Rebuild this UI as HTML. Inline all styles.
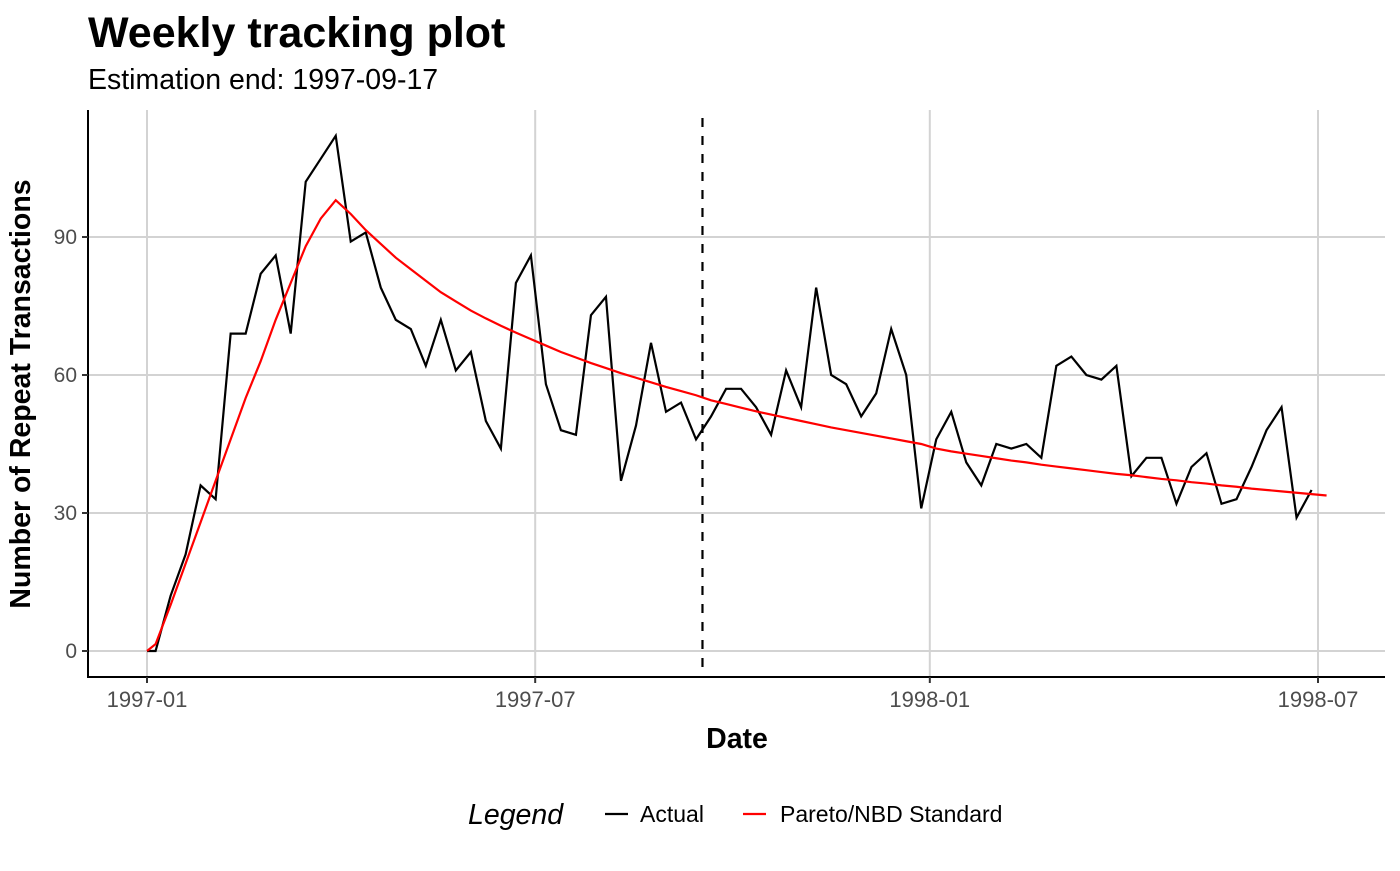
<!DOCTYPE html>
<html><head><meta charset="utf-8"><style>
body{margin:0;background:#fff;font-family:"Liberation Sans",sans-serif}
</style></head><body>
<svg id="chart" width="1400" height="866" xmlns="http://www.w3.org/2000/svg" font-family="Liberation Sans, sans-serif">
<text x="88" y="47" font-size="43" font-weight="bold">Weekly tracking plot</text>
<text x="88" y="89" font-size="28.5">Estimation end: 1997-09-17</text>
<g id="grid"></g>
<g id="marks"></g>
<line x1="88" y1="110" x2="88" y2="678" stroke="#000" stroke-width="2"/>
<line x1="87" y1="677" x2="1385" y2="677" stroke="#000" stroke-width="2"/>
<g id="ticks"></g>
<text x="737" y="748" font-size="28.5" font-weight="bold" text-anchor="middle">Date</text>
<text transform="translate(30,394) rotate(-90)" font-size="28.5" font-weight="bold" text-anchor="middle">Number of Repeat Transactions</text>
<g>
<text x="468" y="824" font-size="28.5" font-style="italic">Legend</text>
<line x1="605" y1="814" x2="628" y2="814" stroke="#000" stroke-width="2.2"/>
<text x="640" y="822" font-size="23">Actual</text>
<line x1="743" y1="814" x2="766" y2="814" stroke="#f00" stroke-width="2.2"/>
<text x="780" y="822" font-size="23">Pareto/NBD Standard</text>
</g>
</svg>
<script>
const actualValues=[0,0,12,21,36,33,69,69,82,86,69,102,107,112,89,91,79,72,70,62,72,61,65,50,44,80,86,58,48,47,73,77,37,49,67,52,54,46,51,57,57,53,47,61,53,79,60,58,51,56,70,60,31,46,52,41,36,45,44,45,42,62,64,60,59,62,38,42,42,32,40,43,32,33,40,48,53,29,35];
const modelValues=[0,1.5,10,19,28,37,46,55,63,72,80,88,94,98,95,91.5,88.5,85.5,83,80.5,78,76,74,72.3,70.7,69.2,67.8,66.4,65,63.8,62.6,61.5,60.4,59.4,58.4,57.4,56.5,55.6,54.5,53.7,52.9,52.1,51.4,50.7,50,49.3,48.6,48,47.4,46.8,46.2,45.6,45,44,43.4,42.9,42.4,41.9,41.4,41,40.5,40.1,39.7,39.3,38.9,38.5,38.2,37.8,37.4,37.1,36.7,36.4,36,35.7,35.3,35,34.7,34.4,34.1,33.8];
const yTicks=[0,30,60,90];
const xTickLabels=["1997-01","1997-07","1998-01","1998-07"];
const xTickDays=[0,181,365,546];
const estimationEndDay=259;
const NS="http://www.w3.org/2000/svg";
function xScale(d){return 147+d*(1318-147)/546;}
function yScale(v){return 651-v*(651-237)/90;}
function dayOf(i){return i===0?0:4+7*(i-1);}
function mk(tag,attrs,parent){const e=document.createElementNS(NS,tag);for(const k in attrs)e.setAttribute(k,attrs[k]);parent.appendChild(e);return e;}
const grid=document.getElementById('grid'),marks=document.getElementById('marks'),ticks=document.getElementById('ticks');
yTicks.forEach(v=>{const y=yScale(v);
 const g=mk('line',{x1:88,x2:1385,y1:y,y2:y,stroke:'#d3d3d3','stroke-width':2},grid);
 
 
 const t=mk('line',{x1:82,x2:88,y1:y,y2:y,stroke:'#333','stroke-width':2},ticks);
 
 
 const l=mk('text',{x:77,y:y+7,'font-size':21,fill:'#4d4d4d','text-anchor':'end'},ticks);l.textContent=v;
 
 
});
xTickDays.forEach((d,i)=>{const x=xScale(d);
 const g=mk('line',{x1:x,x2:x,y1:110,y2:677,stroke:'#d3d3d3','stroke-width':2},grid);
 
 
 const t=mk('line',{x1:x,x2:x,y1:677,y2:683,stroke:'#333','stroke-width':2},ticks);
 
 
 const l=mk('text',{x:x,y:707,'font-size':22,fill:'#4d4d4d','text-anchor':'middle'},ticks);l.textContent=xTickLabels[i];
 
 
});
const ex=xScale(estimationEndDay);
const dl=mk('line',{x1:ex,x2:ex,y1:118,y2:677,stroke:'#000','stroke-width':2.2,'stroke-dasharray':'9,9'},marks);


const mp=mk('polyline',{points:modelValues.map((v,i)=>xScale(dayOf(i))+','+yScale(v)).join(' '),fill:'none',stroke:'#f00','stroke-width':2.2},marks);


const ap=mk('polyline',{points:actualValues.map((v,i)=>xScale(dayOf(i))+','+yScale(v)).join(' '),fill:'none',stroke:'#000','stroke-width':2.2},marks);


marks.appendChild(mp);
</script>
</body></html>
